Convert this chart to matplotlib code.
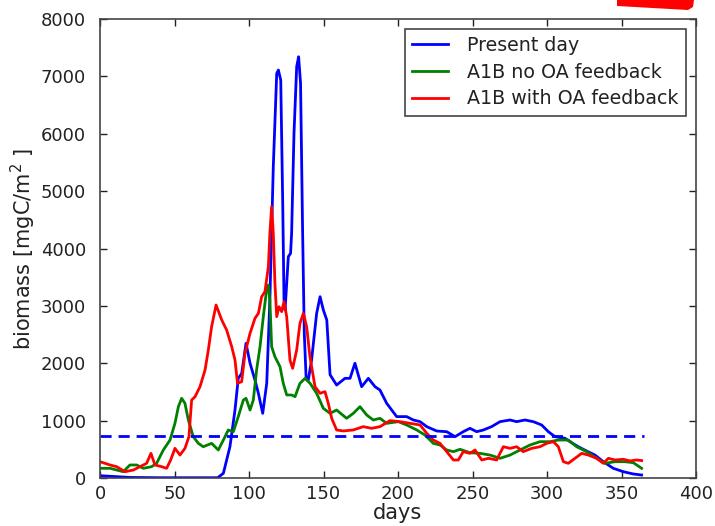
import matplotlib
matplotlib.use("Agg")
import matplotlib.pyplot as plt
from matplotlib.patches import Polygon

# ---- data ----
present_days = [0, 10, 20, 40, 60, 79, 82.8, 87.2, 90.6, 92.8, 95.1, 98, 100.7, 104, 106.3, 109.2,
                111.9, 114, 116.3, 118.6, 119.7, 121.3, 122.6, 123.5, 124.2, 125.3, 126.4, 127.9,
                128.6, 130.2, 132, 133.3, 134.6, 136, 137.1, 138.3, 139.8, 142, 145.4, 147.7,
                149.9, 152.2, 154.4, 158.8, 164.4, 167.8, 171.1, 175.6, 180.1, 184.6, 187.9,
                192.4, 199.1, 205.8, 210.3, 214.8, 219.3, 226, 232.7, 238.3, 243.8, 248.3,
                252.8, 257.3, 262.8, 268.5, 275.2, 279.6, 285.2, 290.8, 296.4, 300.9, 305.4,
                312.1, 315.4, 321, 326.6, 332.2, 337.8, 344.5, 351.2, 357.9, 363.5]
present_vals = [40, 25, 10, 5, 5, 5, 82, 545, 1185, 1737, 1824, 2347, 2000, 1708, 1476, 1127,
                1650, 3100, 5425, 7050, 7110, 6935, 4845, 3100, 2928, 3393, 3858, 3916,
                4265, 6007, 7170, 7342, 6880, 4265, 2522, 1766, 1708, 2056, 2870, 3160,
                2928, 2754, 1800, 1620, 1737, 1737, 2000, 1591, 1737, 1591, 1533,
                1302, 1070, 1070, 1011, 982, 895, 819, 807, 720, 807, 866,
                807, 837, 895, 982, 1011, 982, 1011, 982, 924, 807, 720,
                692, 633, 545, 470, 400, 284, 169, 110, 70, 52]

noOA_days = [0, 6.7, 15.6, 20.1, 24.6, 29.1, 34.6, 38, 42.5, 47, 50.3, 52.6, 54.8, 57, 59.3,
             62.6, 66, 69.3, 74.9, 79.4, 82.8, 86.1, 89.5, 92.8, 96.2, 98, 100.7, 102.9,
             105.1, 107.4, 109.6, 111.8, 113, 114, 115.2, 117.4, 120.8, 123, 125.3, 128.6,
             130.9, 134.2, 137.6, 141, 145.4, 149.9, 154.4, 158.8, 165.5, 170, 174.5, 179,
             183.4, 187.9, 192.4, 200.2, 205.8, 212.6, 218.1, 223.7, 228.2, 232.7, 237.2,
             241.6, 248.3, 255, 261.7, 268.5, 275.2, 281.9, 288.6, 295.3, 302, 307.6,
             314.3, 319.9, 326.6, 333.3, 338.9, 345.6, 352.3, 357.9, 363.5]
noOA_vals = [169, 169, 110, 227, 227, 169, 197, 256, 488, 662, 953, 1243, 1389, 1302, 1011,
             720, 604, 545, 604, 488, 662, 837, 807, 1070, 1359, 1389, 1185, 1359,
             1882, 2289, 2812, 3276, 3363, 3100, 2289, 2114, 1940, 1650, 1447, 1447,
             1418, 1650, 1737, 1650, 1476, 1214, 1127, 1185, 1040, 1127, 1243, 1098,
             1011, 1040, 953, 982, 924, 837, 749, 604, 575, 488, 459,
             500, 441, 430, 400, 343, 400, 488, 575, 633, 633, 662,
             662, 545, 459, 343, 256, 284, 284, 267, 169]

withOA_days = [0, 6.7, 11.2, 16.8, 22.4, 26.8, 31.3, 34.2, 36.9, 41.4, 44.7, 47.4, 50.3, 53.7,
               57, 59.7, 61.5, 63.8, 67.1, 70.5, 72.7, 74.9, 77.9, 81.7, 85, 88.4, 90.6,
               92.3, 95.1, 97.3, 100.7, 104, 106.3, 108.5, 110.7, 113, 114, 115.2, 116.3,
               117.4, 118.6, 120.1, 121.9, 123.5, 125.3, 127.5, 129.3, 132, 134.2, 136.5,
               138.7, 140.9, 144.3, 147.7, 151, 153.2, 155.5, 158.8, 163.3, 170, 176.7,
               182.3, 187.9, 194.6, 201.3, 208, 214.8, 219.3, 223.7, 228.2, 232.7, 237.2,
               240.5, 243.8, 248.3, 251.7, 256.2, 260.7, 266.2, 270.7, 275.2, 279.6, 284.1,
               289.7, 295.3, 299.8, 304.3, 307.6, 311, 314.3, 318.8, 323.3, 327.7, 333.3,
               337.8, 341.2, 345.6, 351.2, 355.7, 360.1, 363.5]
withOA_vals = [284, 227, 197, 110, 139, 197, 256, 430, 227, 197, 169, 313, 517, 400,
               517, 720, 1359, 1417, 1591, 1882, 2231, 2637, 3015, 2754, 2579, 2289, 2056,
               1650, 1680, 2173, 2522, 2783, 2870, 3160, 3247, 3683, 4265, 4728, 4265,
               3392, 2812, 2986, 2899, 3073, 2812, 2056, 1911, 2231, 2696, 2870,
               2637, 2114, 1591, 1476, 1505, 1302, 1040, 837, 820, 837, 895,
               866, 895, 1000, 982, 953, 924, 779, 662, 604, 459, 314,
               314, 459, 430, 488, 314, 343, 314, 545, 517, 545, 459,
               517, 545, 604, 633, 545, 284, 256, 343, 430, 400, 343,
               256, 343, 314, 326, 298, 314, 303]

threshold_days = [0, 365]
threshold_vals = [730, 730]

labels = ["Present day", "A1B no OA feedback", "A1B with OA feedback"]
xticks = [0, 50, 100, 150, 200, 250, 300, 350, 400]
yticks = [0, 1000, 2000, 3000, 4000, 5000, 6000, 7000, 8000]

# ---- figure ----
fig = plt.figure(figsize=(7.15, 5.26), dpi=100)
ax = fig.add_axes([100/715, 1 - 478/526, (696-100)/715, (478-19)/526])

lw = 2.0
ax.plot(present_days, present_vals, color="#0000ff", lw=lw, label=labels[0])
ax.plot(noOA_days, noOA_vals, color="#008000", lw=lw, label=labels[1])
ax.plot(withOA_days, withOA_vals, color="#ff0000", lw=lw, label=labels[2])
ax.plot(threshold_days, threshold_vals, color="#0000ff", lw=lw, linestyle=(0, (4, 2.5)))

ax.set_xlim(0, 400)
ax.set_ylim(0, 8000)
ax.set_xticks(xticks)
ax.set_yticks(yticks)
ax.tick_params(direction="in", top=True, right=True, length=5, width=1,
               labelsize=13, colors="#222222")
ax.tick_params(axis="y", pad=10)
ax.tick_params(axis="x", pad=5)
for s in ax.spines.values():
    s.set_color("#444444")
    s.set_linewidth(1.2)

ax.set_xlabel("days", fontsize=15, color="#222222", labelpad=0)
ax.set_ylabel(r"biomass [mgC/m$^2$ ]", fontsize=15, color="#222222", labelpad=2)

leg = ax.legend(loc="upper right", fontsize=13.7, fancybox=False, framealpha=1,
                edgecolor="#444444", borderaxespad=0.5, handlelength=1.9,
                handletextpad=1.0, labelspacing=0.4, borderpad=0.4)
leg.get_frame().set_linewidth(1.2)
for t in leg.get_texts():
    t.set_color("#222222")

# red annotation stroke cut off at the top-right corner
pts_px = [(617, 0), (694, 0), (693, 7), (688, 10), (617, 6)]
poly = Polygon([(x/715, 1 - y/526) for x, y in pts_px], closed=True,
               transform=fig.transFigure, facecolor="#ff0000", edgecolor="none")
fig.patches.append(poly)

fig.savefig("out.png", dpi=100)
